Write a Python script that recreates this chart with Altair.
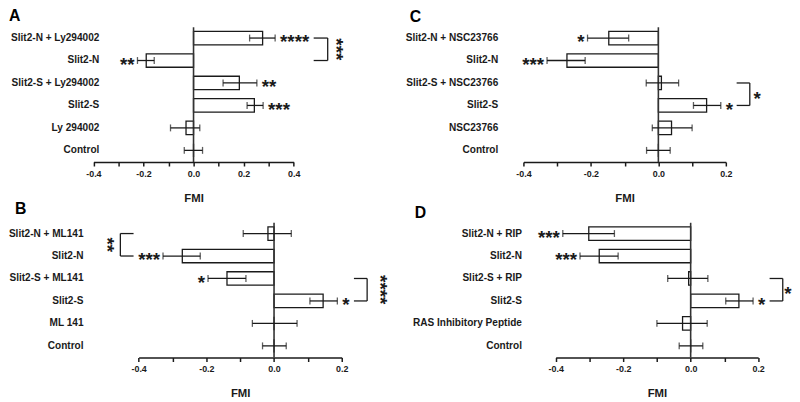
import altair as alt
import pandas as pd

# ---------------- data ----------------
a_rows = ["Slit2-N + Ly294002", "Slit2-N", "Slit2-S + Ly294002", "Slit2-S", "Ly 294002", "Control"]
a_mean = [0.276, -0.189, 0.183, 0.243, -0.030, 0.0]
a_lo = [0.224, -0.224, 0.118, 0.214, -0.092, -0.037]
a_hi = [0.326, -0.157, 0.253, 0.278, 0.025, 0.036]
a_stars = ["****", "**", "**", "***", "", ""]
a_side = ["right", "left", "right", "right", "", ""]

c_rows = ["Slit2-N + NSC23766", "Slit2-N", "Slit2-S + NSC23766", "Slit2-S", "NSC23766", "Control"]
c_mean = [-0.147, -0.271, 0.009, 0.143, 0.039, 0.0]
c_lo = [-0.210, -0.330, -0.036, 0.104, -0.018, -0.035]
c_hi = [-0.088, -0.217, 0.060, 0.185, 0.100, 0.035]
c_stars = ["*", "***", "", "*", "", ""]
c_side = ["left", "left", "", "right", "", ""]

b_rows = ["Slit2-N + ML141", "Slit2-N", "Slit2-S + ML141", "Slit2-S", "ML 141", "Control"]
b_mean = [-0.018, -0.271, -0.139, 0.145, 0.0, 0.0]
b_lo = [-0.091, -0.328, -0.195, 0.106, -0.064, -0.034]
b_hi = [0.051, -0.218, -0.083, 0.187, 0.068, 0.036]
b_stars = ["", "***", "*", "*", "", ""]
b_side = ["", "left", "left", "right", "", ""]

d_rows = ["Slit2-N + RIP", "Slit2-N", "Slit2-S + RIP", "Slit2-S", "RAS Inhibitory Peptide", "Control"]
d_mean = [-0.302, -0.271, -0.006, 0.143, -0.024, 0.0]
d_lo = [-0.379, -0.328, -0.068, 0.104, -0.100, -0.034]
d_hi = [-0.226, -0.215, 0.051, 0.185, 0.049, 0.036]
d_stars = ["***", "***", "", "*", "", ""]
d_side = ["left", "left", "", "right", "", ""]

# brackets: (row index a, row index b, x inner end, x outer (vertical), x of star text, text, rotated)
a_brackets = [(0, 1, 0.480, 0.536, 0.585, "***", True)]
c_brackets = [(2, 3, 0.232, 0.271, 0.293, "*", False)]
b_brackets = [(0, 1, -0.415, -0.454, -0.480, "**", True),
              (2, 3, 0.236, 0.275, 0.325, "****", True)]
d_brackets = [(2, 3, 0.234, 0.273, 0.288, "*", False)]

ticks_wide = [-0.4, -0.3, -0.2, -0.1, 0.0, 0.1, 0.2, 0.3, 0.4]
ticks_narrow = [-0.4, -0.3, -0.2, -0.1, 0.0, 0.1, 0.2]

# ---------------- style ----------------
FONT = "Liberation Sans"
INK = "#1a1a1a"
H = 136.5
STEP = H / 6.0
STAR_FS = 19
STAR_DY = 10.5
TITLE_DY = 18.2

LABEL_EXPR = ("abs(round(datum.value*10)) % 2 == 0 ? "
              "(datum.value < -0.0001 ? '-' : '') + format(abs(datum.value), '.1f') : ''")


def panel(letter, rows, mean, lo, hi, stars, side, brackets, domain, xrange, ticks,
          width, title_dx, title_offset, label_offset):
    df = pd.DataFrame({"row": rows, "mean": mean, "lo": lo, "hi": hi,
                       "star": stars, "side": side})
    xs = alt.Scale(domain=domain, range=xrange, nice=False, zero=False)
    ys = alt.Scale(domain=rows, paddingInner=0.4, paddingOuter=0.2, align=0.45)
    x_axis = alt.Axis(values=ticks, labelExpr=LABEL_EXPR, title="FMI", grid=False,
                      domainColor=INK, domainWidth=1.5, tickColor=INK, tickWidth=1.5,
                      tickSize=4, labelFontSize=9, labelFont=FONT, labelColor=INK,
                      labelFontWeight="bold",
                      labelPadding=3.5, labelOverlap=False, labelFlush=False,
                      titleFont=FONT, titleFontSize=11.5, titleFontWeight="bold",
                      titleColor=INK, titlePadding=14)
    y_axis = alt.Axis(title=None, domain=False, ticks=False, grid=False, labelPadding=4,
                      offset=label_offset, labelFontSize=10.2, labelFont=FONT,
                      labelFontWeight="bold", labelColor=INK)
    X = lambda f: alt.X(f, scale=xs, axis=x_axis)
    Y = alt.Y("row:N", scale=ys, axis=y_axis, sort=rows)

    base = alt.Chart(df)
    bars = base.mark_bar(fill="white", stroke=INK, strokeWidth=1.3).encode(
        x=X("mean:Q"), x2=alt.datum(0), y=Y)
    zero = alt.Chart(pd.DataFrame({"z": [0.0]})).mark_rule(color="#333", strokeWidth=1.6).encode(
        x=alt.X("z:Q", scale=xs, axis=x_axis))
    err = base.mark_rule(color=INK, strokeWidth=1.3).encode(x=X("lo:Q"), x2="hi:Q", y=Y)
    cap_lo = base.mark_tick(color=INK, thickness=1.3, size=7).encode(x=X("lo:Q"), y=Y)
    cap_hi = base.mark_tick(color=INK, thickness=1.3, size=7).encode(x=X("hi:Q"), y=Y)
    st_r = base.transform_filter(alt.datum.side == "right").mark_text(
        align="left", baseline="alphabetic", dx=5, dy=STAR_DY, fontSize=STAR_FS,
        font=FONT, fontWeight="bold", color=INK).encode(x=X("hi:Q"), y=Y, text="star:N")
    st_l = base.transform_filter(alt.datum.side == "left").mark_text(
        align="right", baseline="alphabetic", dx=-3, dy=STAR_DY, fontSize=STAR_FS,
        font=FONT, fontWeight="bold", color=INK).encode(x=X("lo:Q"), y=Y, text="star:N")

    layers = [bars, zero, err, cap_lo, cap_hi, st_r, st_l]

    for (ia, ib, xin, xout, xstar, txt, rot) in brackets:
        seg = pd.DataFrame({"x1": [xin, xout, xin], "x2": [xout, xout, xout],
                            "r1": [rows[ia], rows[ia], rows[ib]],
                            "r2": [rows[ia], rows[ib], rows[ib]]})
        layers.append(alt.Chart(seg).mark_rule(color=INK, strokeWidth=1.3).encode(
            x=X("x1:Q"), x2="x2:Q", y=alt.Y("r1:N", scale=ys, axis=y_axis, sort=rows),
            y2="r2:N"))
        sdf = pd.DataFrame({"x": [xstar], "r": [rows[ia]], "t": [txt]})
        if rot:
            mk = alt.Chart(sdf).mark_text(angle=90, align="center", baseline="alphabetic",
                                          dx=STEP / 2, dy=STAR_DY, fontSize=STAR_FS,
                                          font=FONT, fontWeight="bold", color=INK)
        else:
            mk = alt.Chart(sdf).mark_text(align="center", baseline="alphabetic",
                                          dy=STEP / 2 + STAR_DY, fontSize=STAR_FS,
                                          font=FONT, fontWeight="bold", color=INK)
        layers.append(mk.encode(x=X("x:Q"), y=alt.Y("r:N", scale=ys, axis=y_axis, sort=rows),
                                text="t:N"))

    return alt.layer(*layers).properties(
        width=width, height=H,
        title=alt.TitleParams(letter, anchor="start", frame="group", dx=title_dx,
                              dy=TITLE_DY, offset=title_offset, baseline="alphabetic",
                              fontSize=16, fontWeight="bold", font=FONT, color="black"))


W1 = 422.5
W2 = 280
pa = panel("A", a_rows, a_mean, a_lo, a_hi, a_stars, a_side, a_brackets, [-0.4, 0.4],
           [9.5, 212.3], ticks_wide, W1, -76, 7.3, -19)
pc = panel("C", c_rows, c_mean, c_lo, c_hi, c_stars, c_side, c_brackets, [-0.4, 0.2],
           [22, 227], ticks_narrow, W2, -93, 6.7, 0)
pb = panel("B", b_rows, b_mean, b_lo, b_hi, b_stars, b_side, b_brackets, [-0.4, 0.2],
           [55.3, 261], ticks_narrow, W1, -70, 10.5, -3)
pd_ = panel("D", d_rows, d_mean, d_lo, d_hi, d_stars, d_side, d_brackets, [-0.4, 0.2],
            [54.7, 259.7], ticks_narrow, W2, -88, 6.5, -24)

chart = alt.concat(pa, pc, pb, pd_, columns=2, spacing={"row": 61, "column": 0},
                   bounds="flush", align="each").properties(
    padding={"left": 0, "top": -2, "right": 0, "bottom": 0}
).configure_view(stroke=None).resolve_scale(x="independent", y="independent")

chart.save("out.html", embed_options={"renderer": "svg", "actions": False})
